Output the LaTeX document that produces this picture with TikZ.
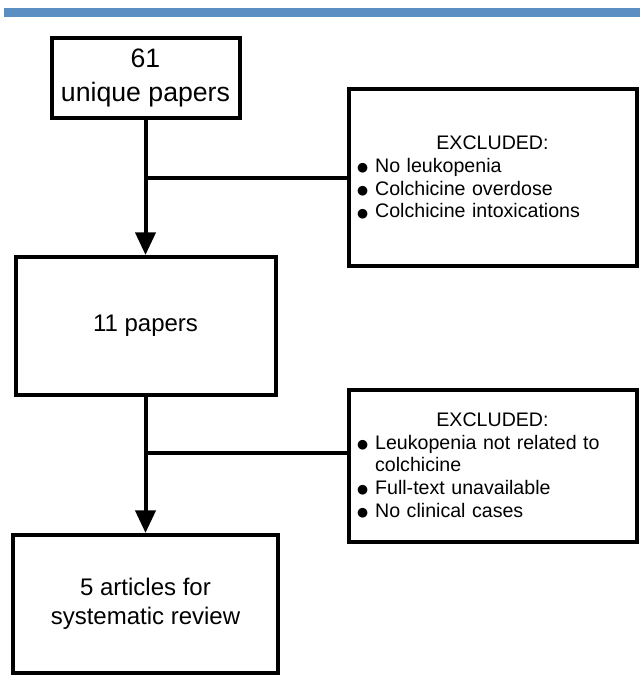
\documentclass[tikz,border=0pt]{standalone}
\usepackage{fontspec}
\setmainfont{Liberation Sans}
\newfontfamily\dotfont{DejaVu Sans}
\usetikzlibrary{arrows.meta,positioning}
\definecolor{barblue}{HTML}{5B8FC3}
\newcommand{\bigdot}{\raisebox{0.5pt}{\dotfont\fontsize{9.5}{11}\selectfont ●}}
\newcommand{\exitem}[1]{\noindent\hangindent=13.5pt\hangafter=1\makebox[13.5pt][l]{\bigdot}#1\par}
\tikzset{
  stepbox/.style={draw, line width=3pt, align=center, inner sep=0pt},
  exbox/.style={draw, line width=3pt, inner sep=0pt, minimum width=216pt,
    text width=203pt, align=left, font=\fontsize{14.7}{17}\selectfont},
  >={Triangle[width=15pt,length=17pt]}
}
\begin{document}
\begin{tikzpicture}[x=0.75pt, y=-0.75pt]
  \useasboundingbox (0,0) rectangle (640,688);
  \fill[barblue] (4,8) rectangle (640,17);
  \node[stepbox, minimum width=141pt, minimum height=60pt,
    font=\fontsize{20}{26}\selectfont] (all) at (145.5,78) {61\\unique papers};
  \node[stepbox, below of=all, node distance=186pt, minimum width=195pt,
    minimum height=103.5pt, font=\fontsize{18}{21.5}\selectfont] (eleven) {11 papers};
  \node[stepbox, below of=eleven, node distance=208.5pt, minimum width=198.75pt,
    minimum height=103.5pt, font=\fontsize{18}{21.5}\selectfont] (five) {5 articles for\\systematic review};
  \node[exbox, minimum height=132.75pt] (exA) at (492.5,177.5) {\makebox[\linewidth]{EXCLUDED:}\par
    \exitem{No leukopenia}
    \exitem{Colchicine overdose}
    \exitem{Colchicine intoxications}};
  \node[exbox, minimum height=114pt] (exB) at (492.5,465.5) {\makebox[\linewidth]{EXCLUDED:}\par
    \exitem{Leukopenia not related to colchicine}
    \exitem{Full-text unavailable}
    \exitem{No clinical cases}};
  \coordinate (jB) at (145.5,453);
  \draw[->, line width=3pt] (all) -- (eleven);
  \draw[line width=3pt] (exA.west) -- (exA.west -| all.south);
  \draw[->, line width=3pt] (eleven) -- (five);
  \draw[line width=3pt] (jB) -- (jB -| exB.west);
\end{tikzpicture}
\end{document}
